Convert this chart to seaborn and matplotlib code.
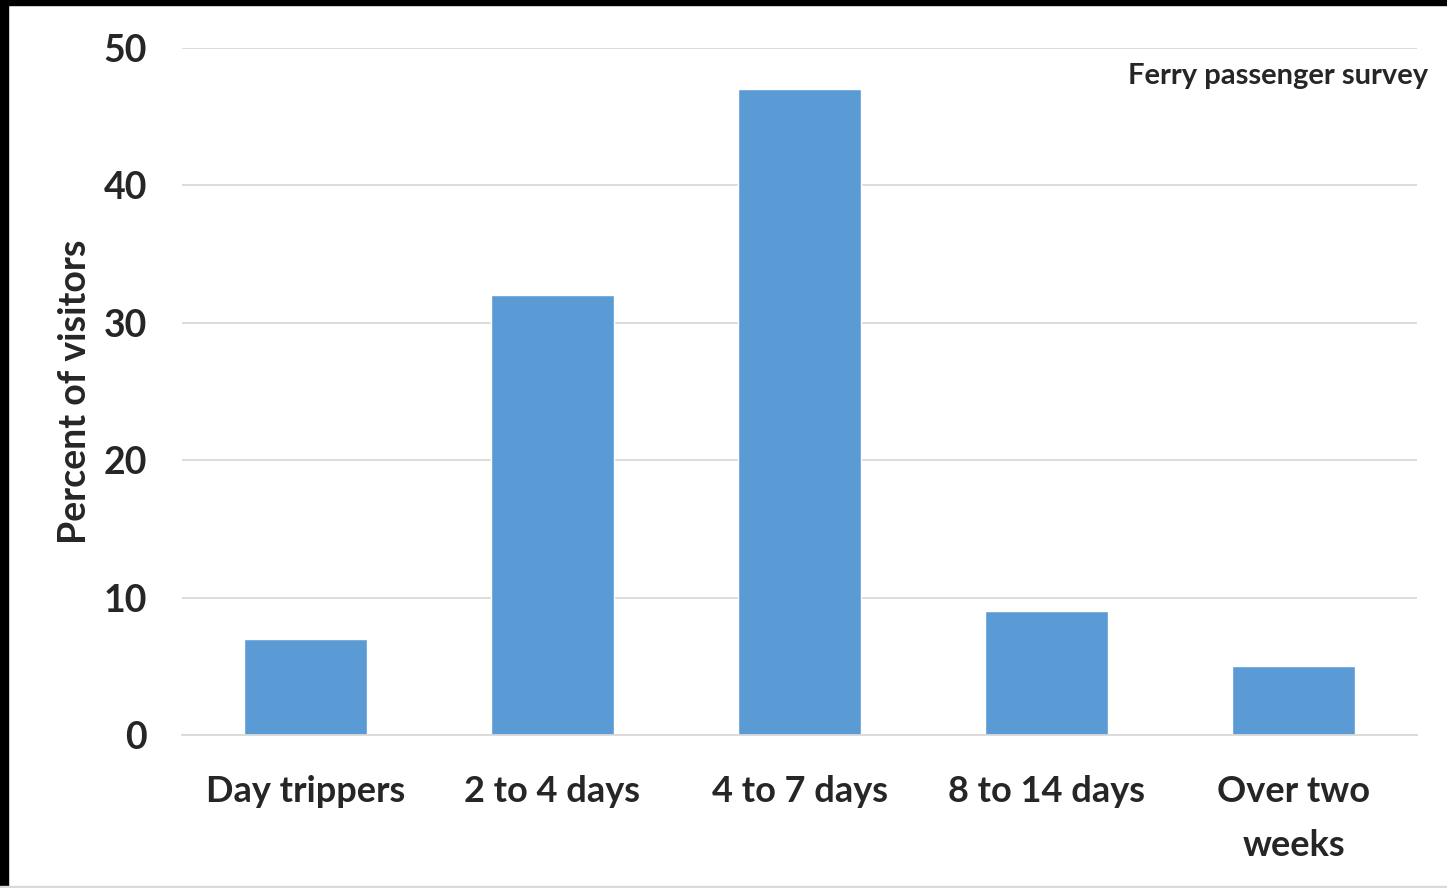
import seaborn as sns
import matplotlib.pyplot as plt
import matplotlib.patches as mpatches
import pandas as pd

# Dados do gráfico
categorias = ['Day trippers', '2 to 4 days', '4 to 7 days', '8 to 14 days', 'Over two\nweeks']
percentuais = [7, 32, 47, 9, 5]
ticks_y = [0, 10, 20, 30, 40, 50]

df = pd.DataFrame({'cat': categorias, 'pct': percentuais})

sns.set_style('white')
plt.rcParams['font.family'] = ['Lato', 'DejaVu Sans']
plt.rcParams['font.weight'] = 'bold'

fig = plt.figure(figsize=(14.47, 8.88), dpi=100)
ax = fig.add_axes([182 / 1447, 1 - 735 / 888, (1417 - 182) / 1447, (735 - 48) / 888])

sns.barplot(data=df, x='cat', y='pct', color='#5B9BD5', width=0.5, saturation=1, ax=ax)

ax.set_ylim(0, 50)
ax.set_yticks(ticks_y)
ax.set_yticklabels([str(t) for t in ticks_y], fontsize=27, fontweight='bold')
ax.set_xticks(range(len(categorias)))
ax.set_xticklabels(categorias, fontsize=26, fontweight='bold', linespacing=1.75)
ax.tick_params(axis='both', length=0)
ax.tick_params(axis='y', pad=25)
ax.tick_params(axis='x', pad=29)
ax.grid(axis='y', color='#d9d9d9', linewidth=1.3)
ax.set_axisbelow(True)
for s in ['top', 'right', 'left']:
    ax.spines[s].set_visible(False)
ax.spines['bottom'].set_color('#d9d9d9')
ax.spines['bottom'].set_linewidth(1.3)
ax.set_xlabel('')
ax.set_ylabel('')

fig.text(75 / 1447, 1 - 392 / 888, 'Percent of visitors', rotation=90, ha='center', va='center',
         fontsize=27, fontweight='bold')
fig.text(1428 / 1447, 1 - 76 / 888, 'Ferry passenger survey', ha='right', va='center',
         fontsize=21, fontweight='bold')

# Moldura preta (esquerda e topo)
fig.patches.append(mpatches.Rectangle((0, 0), 8 / 1447, 1, transform=fig.transFigure,
                                      color='black', zorder=10))
fig.patches.append(mpatches.Rectangle((0, 1 - 5 / 888), 1, 5 / 888, transform=fig.transFigure,
                                      color='black', zorder=10))
fig.patches.append(mpatches.Rectangle((0, 0), 1, 2 / 888, transform=fig.transFigure,
                                      color='#d9d9d9', zorder=10))

fig.savefig('out.png', dpi=100)
